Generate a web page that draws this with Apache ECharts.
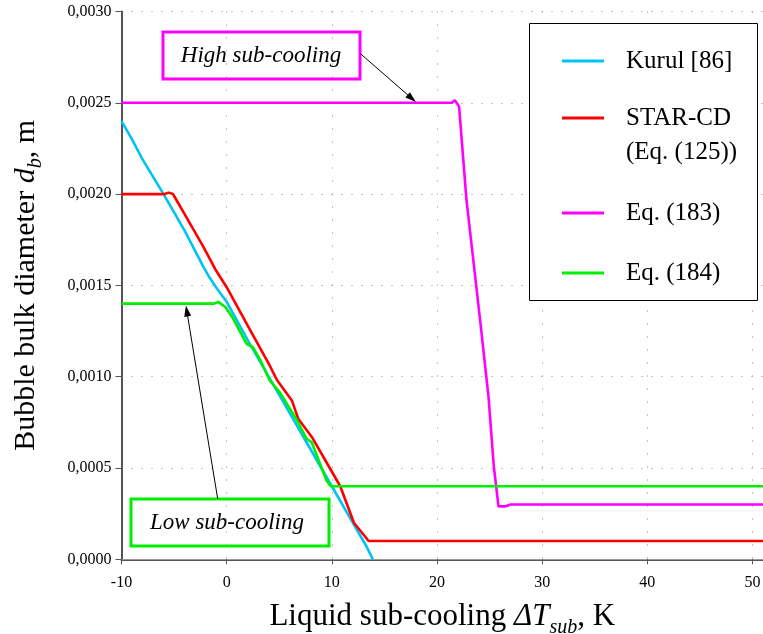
<!DOCTYPE html>
<html>
<head>
<meta charset="utf-8">
<script src="https://cdn.jsdelivr.net/npm/echarts@6/dist/echarts.min.js"></script>
<style>
html, body { margin: 0; padding: 0; background: #fff; }
#chart { width: 763px; height: 634px; }
</style>
</head>
<body>
<div id="chart"></div>
<script>
// Axis ticks and their labels
const xTickLabels = ['-10', '0', '10', '20', '30', '40', '50'];
const yTickLabels = ['0,0000', '0,0005', '0,0010', '0,0015', '0,0020', '0,0025', '0,0030'];

// Bubble bulk diameter d_b (m) against liquid sub-cooling ΔT_sub (K)
const kurulX = [-10, -9, -8, -6, -4, -2.2, -1.6, -0.9, 0, 2, 4, 6, 8, 10, 12, 13.3, 13.9];
const kurulY = [0.00240, 0.00230, 0.00219, 0.00200, 0.00180, 0.00160, 0.00154, 0.00148, 0.00141, 0.00120, 0.00100, 0.00080, 0.00060, 0.00040, 0.00020, 0.00007, 0.00000];

const starcdX = [-10, -5.9, -5.5, -5.1, -4.9, -4, -3, -2.2, -1.1, 0, 2, 4.1, 4.8, 6.2, 6.8, 8.1, 9.5, 10.8, 12.1, 13.5, 51];
const starcdY = [0.00200, 0.00200, 0.002008, 0.00200, 0.00198, 0.00189, 0.00179, 0.00171, 0.00159, 0.00149, 0.00128, 0.00106, 0.00098, 0.00087, 0.00077, 0.00067, 0.00053, 0.00040, 0.00020, 0.00010, 0.00010];

const eq183X = [-10, 21.4, 21.7, 22.1, 22.8, 24.1, 24.9, 25.4, 25.85, 26.0, 26.5, 27.0, 51];
const eq183Y = [0.00250, 0.00250, 0.002514, 0.00248, 0.00197, 0.00131, 0.00089, 0.00051, 0.00029, 0.00028, 0.00029, 0.00030, 0.00030];

const eq184X = [-10, -1.2, -0.8, -0.1, 0.6, 1.9, 2.5, 3.2, 4.1, 5.1, 6.7, 7.6, 8.1, 9.5, 9.9, 10.3, 51];
const eq184Y = [0.00140, 0.00140, 0.00141, 0.00138, 0.00132, 0.00118, 0.00116, 0.00109, 0.00098, 0.00091, 0.00076, 0.00066, 0.00064, 0.00043, 0.00040, 0.00040, 0.00040];

// Annotation arrows (start -> tip), in data units
const highArrow = [[12.7, 0.00277], [17.6, 0.002524]];
const lowArrow = [[-0.85, 0.00033], [-3.79, 0.00136]];

const SERIF = '"Liberation Serif", "Times New Roman", serif';

function pairs(xs, ys) { return xs.map((x, i) => [x, ys[i]]); }

const lineStyles = [
  { name: 'Kurul [86]', color: '#00c3f5', x: kurulX, y: kurulY },
  { name: 'STAR-CD (Eq. (125))', color: '#ff0000', x: starcdX, y: starcdY },
  { name: 'Eq. (183)', color: '#ff00ff', x: eq183X, y: eq183Y },
  { name: 'Eq. (184)', color: '#00ee00', x: eq184X, y: eq184Y }
];

function arrowMark(a) {
  return {
    silent: true,
    animation: false,
    symbol: ['none', 'triangle'],
    symbolSize: [7, 11],
    label: { show: false },
    lineStyle: { color: '#000', width: 1, type: 'solid' },
    emphasis: { disabled: true },
    data: [[{ coord: a[0] }, { coord: a[1] }]]
  };
}

const series = lineStyles.map((s, i) => ({
  name: s.name,
  type: 'line',
  data: pairs(s.x, s.y),
  showSymbol: false,
  symbol: 'none',
  smooth: false,
  silent: true,
  z: 2 + i,
  lineStyle: { color: s.color, width: 2.6 },
  itemStyle: { color: s.color },
  markLine: i === 2 ? arrowMark(highArrow) : (i === 3 ? arrowMark(lowArrow) : undefined)
}));

const legendText = { fontFamily: SERIF, fontSize: 25, color: '#000', lineHeight: 34, padding: [0, 0, 0, 17] };
const legendBase = {
  orient: 'vertical',
  left: 562,
  padding: 0,
  icon: 'rect',
  itemWidth: 42,
  itemHeight: 3,
  selectedMode: false,
  z: 6,
  textStyle: legendText
};

const legends = [
  Object.assign({}, legendBase, { top: 44, data: ['Kurul [86]'] }),
  // three-line label keeps the marker level with the first text line
  Object.assign({}, legendBase, { top: 67, data: ['STAR-CD (Eq. (125))'],
    formatter: () => ' \nSTAR-CD\n(Eq. (125))' }),
  Object.assign({}, legendBase, { top: 196, data: ['Eq. (183)'] }),
  Object.assign({}, legendBase, { top: 256, data: ['Eq. (184)'] })
];

const chart = echarts.init(document.getElementById('chart'), null, { renderer: 'canvas' });

chart.setOption({
  animation: false,
  backgroundColor: '#fff',
  grid: { left: 121.5, top: 11.5, right: 0, bottom: 74.7, containLabel: false, outerBoundsMode: 'none' },
  legend: legends,
  xAxis: [{
    type: 'value',
    min: -10,
    max: 51,
    interval: 10,
    name: '{n|Liquid sub-cooling }{i|ΔT}{s|sub}{n|, K}',
    nameLocation: 'middle',
    nameGap: 38,
    nameTextStyle: {
      rich: {
        n: { fontFamily: SERIF, fontSize: 31, color: '#000', lineHeight: 40 },
        i: { fontFamily: SERIF, fontSize: 31, fontStyle: 'italic', color: '#000', lineHeight: 40 },
        s: { fontFamily: SERIF, fontSize: 20, fontStyle: 'italic', color: '#000', lineHeight: 24, verticalAlign: 'bottom' }
      }
    },
    axisLine: { show: true, onZero: false, lineStyle: { color: '#555', width: 2 } },
    axisTick: { show: true, inside: false, length: 5, lineStyle: { color: '#555', width: 1 } },
    axisLabel: {
      fontFamily: SERIF, fontSize: 16, color: '#000', margin: 15,
      formatter: (v) => { const k = xTickLabels.indexOf(String(v)); return k >= 0 ? xTickLabels[k] : ''; }
    },
    splitLine: { show: true, lineStyle: { color: '#8a8a8a', width: 1, type: [1, 12] } }
  }, {
    type: 'value',
    position: 'top',
    min: -10,
    max: 51,
    interval: 10,
    axisLine: { show: true, lineStyle: { color: '#9a9a9a', width: 1 } },
    axisTick: { show: false },
    axisLabel: { show: false },
    splitLine: { show: false }
  }],
  yAxis: {
    type: 'value',
    min: 0,
    max: 0.003,
    interval: 0.0005,
    name: '{n|Bubble bulk diameter }{i|d}{s|b}{n|, m}',
    nameLocation: 'middle',
    nameRotate: 90,
    nameGap: 76,
    nameTextStyle: {
      rich: {
        n: { fontFamily: SERIF, fontSize: 30, color: '#000', lineHeight: 38 },
        i: { fontFamily: SERIF, fontSize: 30, fontStyle: 'italic', color: '#000', lineHeight: 38 },
        s: { fontFamily: SERIF, fontSize: 20, fontStyle: 'italic', color: '#000', lineHeight: 23, verticalAlign: 'bottom' }
      }
    },
    axisLine: { show: true, onZero: false, lineStyle: { color: '#555', width: 2 } },
    axisTick: { show: true, inside: false, length: 6, lineStyle: { color: '#555', width: 1 } },
    axisLabel: {
      fontFamily: SERIF, fontSize: 16, color: '#000', margin: 10,
      formatter: (v, i) => yTickLabels[i] ?? ''
    },
    splitLine: { show: true, lineStyle: { color: '#8a8a8a', width: 1, type: [1, 9] } }
  },
  graphic: [
    {
      type: 'rect', z: 5, silent: true,
      shape: { x: 529.5, y: 23.5, width: 228, height: 277 },
      style: { fill: '#fff', stroke: '#000', lineWidth: 1 }
    },
    {
      type: 'rect', z: 5, silent: true,
      shape: { x: 163, y: 32, width: 197, height: 47 },
      style: { fill: 'transparent', stroke: '#ff00ff', lineWidth: 3 }
    },
    {
      type: 'text', z: 6, silent: true,
      style: { x: 261, y: 56, text: 'High sub-cooling', align: 'center', verticalAlign: 'middle',
        font: 'italic 23px ' + SERIF, fill: '#000' }
    },
    {
      type: 'rect', z: 5, silent: true,
      shape: { x: 131, y: 499, width: 198, height: 47 },
      style: { fill: 'transparent', stroke: '#00ee00', lineWidth: 3 }
    },
    {
      type: 'text', z: 6, silent: true,
      style: { x: 227, y: 523, text: 'Low sub-cooling', align: 'center', verticalAlign: 'middle',
        font: 'italic 23px ' + SERIF, fill: '#000' }
    }
  ],
  series: series
});
</script>
</body>
</html>
